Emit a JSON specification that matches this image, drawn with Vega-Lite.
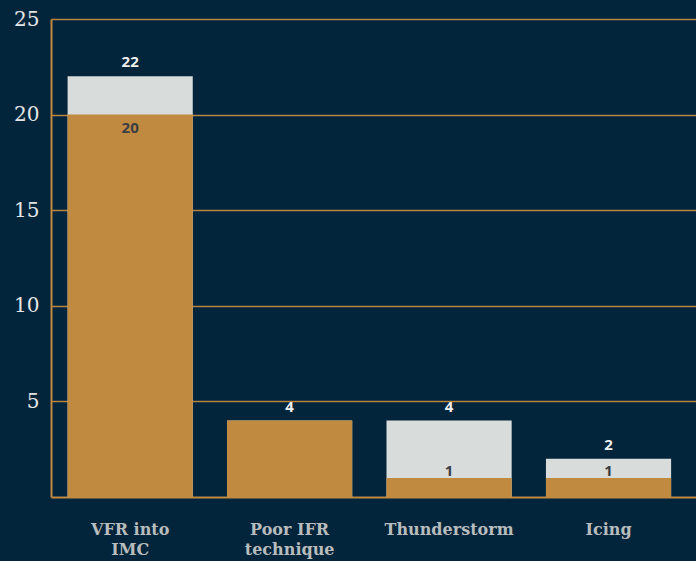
{
  "$schema": "https://vega.github.io/schema/vega-lite/v6.json",
  "width": 645,
  "height": 478,
  "autosize": {"type": "none"},
  "padding": {"left": 51, "top": 19, "right": 0, "bottom": 64},
  "background": "#03253b",
  "config": {"view": {"stroke": null}},
  "data": {
    "values": [
      {"cause": "VFR into IMC", "total": 22, "subset": 20},
      {"cause": "Poor IFR technique", "total": 4, "subset": 4},
      {"cause": "Thunderstorm", "total": 4, "subset": 1},
      {"cause": "Icing", "total": 2, "subset": 1}
    ]
  },
  "transform": [{"fold": ["total", "subset"], "as": ["series", "value"]}],
  "encoding": {
    "x": {
      "field": "cause",
      "type": "nominal",
      "sort": null,
      "scale": {"paddingInner": 0.215, "paddingOuter": 0.13, "align": 0.4},
      "axis": {
        "title": null,
        "domainColor": "#c08a40",
        "domainWidth": 2,
        "ticks": false,
        "labelAngle": 0,
        "labelPadding": 24,
        "labelFont": "DejaVu Serif",
        "labelFontWeight": "bold",
        "labelFontSize": 16,
        "labelColor": "#b9bcbd",
        "labelLineHeight": 20,
        "labelExpr": "datum.label === 'VFR into IMC' ? ['VFR into', 'IMC'] : datum.label === 'Poor IFR technique' ? ['Poor IFR', 'technique'] : datum.label"
      }
    },
    "y": {
      "field": "value",
      "type": "quantitative",
      "stack": null,
      "scale": {"domain": [0, 25], "nice": false},
      "axis": {
        "title": null,
        "values": [5, 10, 15, 20, 25],
        "grid": true,
        "gridColor": "#b9853e",
        "gridOpacity": 1,
        "gridWidth": 1.5,
        "domainColor": "#c08a40",
        "domainWidth": 2,
        "ticks": false,
        "labelPadding": 12,
        "labelFont": "DejaVu Serif",
        "labelFontSize": 20,
        "labelColor": "#e4e6e6"
      }
    }
  },
  "layer": [
    {
      "mark": {"type": "bar"},
      "encoding": {
        "color": {
          "field": "series",
          "type": "nominal",
          "scale": {"domain": ["total", "subset"], "range": ["#d8dcdb", "#c08a40"]},
          "legend": null
        }
      }
    },
    {
      "transform": [{"filter": "datum.series === 'total'"}],
      "mark": {"type": "text", "baseline": "bottom", "dy": -6, "font": "Open Sans", "fontWeight": "bold", "fontSize": 15, "color": "#eef0f0"},
      "encoding": {"text": {"field": "value", "type": "quantitative"}}
    },
    {
      "transform": [{"filter": "datum.series === 'subset' && datum.subset < datum.total && datum.value >= 10"}],
      "mark": {"type": "text", "baseline": "top", "dy": 6, "font": "Open Sans", "fontWeight": "bold", "fontSize": 15, "color": "#3a3f44"},
      "encoding": {"text": {"field": "value", "type": "quantitative"}}
    },
    {
      "transform": [{"filter": "datum.series === 'subset' && datum.subset < datum.total && datum.value < 10"}],
      "mark": {"type": "text", "baseline": "middle", "dy": -7, "font": "Open Sans", "fontWeight": "bold", "fontSize": 15, "color": "#3a3f44"},
      "encoding": {"text": {"field": "value", "type": "quantitative"}}
    }
  ]
}
